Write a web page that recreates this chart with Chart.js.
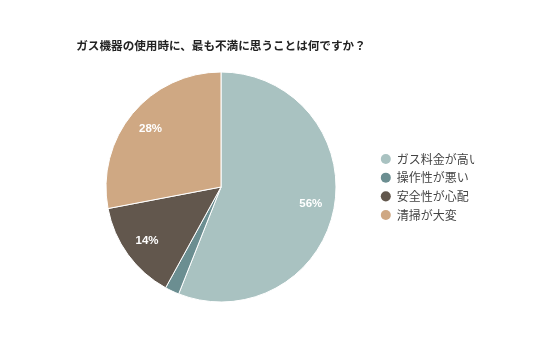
<!DOCTYPE html>
<html>
<head>
<meta charset="utf-8">
<script src="https://cdn.jsdelivr.net/npm/chart.js@4"></script>
<style>
  html, body { margin: 0; padding: 0; background: #ffffff; }
  canvas { display: block; }
</style>
</head>
<body>
<canvas id="c" width="536" height="357"></canvas>
<script>
const titleText = 'ガス機器の使用時に、最も不満に思うことは何ですか？';
const categories = ['ガス料金が高い', '操作性が悪い', '安全性が心配', '清掃が大変'];
const values = [56, 2, 14, 28];
const colors = ['#a9c2c1', '#6b8e91', '#62574d', '#cfa883'];

const pctLabels = {
  id: 'pctLabels',
  afterDatasetsDraw(chart) {
    const ctx = chart.ctx;
    const meta = chart.getDatasetMeta(0);
    const data = chart.data.datasets[0].data;
    const total = data.reduce((a, b) => a + b, 0);
    ctx.save();
    ctx.fillStyle = '#ffffff';
    ctx.font = 'bold 11.5px "Liberation Sans", Arial, sans-serif';
    ctx.textAlign = 'center';
    ctx.textBaseline = 'middle';
    meta.data.forEach((arc, i) => {
      const pct = Math.round(data[i] / total * 100);
      if (pct < 5) return;
      const p = arc.getProps(['x', 'y', 'startAngle', 'endAngle', 'outerRadius'], true);
      const mid = (p.startAngle + p.endAngle) / 2;
      const r = p.outerRadius * 0.795;
      ctx.fillText(pct + '%', p.x + Math.cos(mid) * r, p.y + Math.sin(mid) * r);
    });
    ctx.restore();
  }
};

new Chart(document.getElementById('c'), {
  type: 'pie',
  data: {
    labels: categories,
    datasets: [{
      data: values,
      backgroundColor: colors,
      borderColor: '#ffffff',
      borderWidth: 1,
      radius: 115
    }]
  },
  options: {
    responsive: false,
    animation: false,
    events: [],
    layout: { padding: { top: 38.6, bottom: 54.5, left: 67.9, right: 61.9 } },
    plugins: {
      title: {
        display: true,
        text: titleText,
        fullSize: false,
        color: '#222222',
        font: { family: '"Noto Sans CJK JP", sans-serif', size: 11.6, weight: 'bold', lineHeight: 1.2 },
        padding: { top: 0, bottom: 19 }
      },
      legend: {
        position: 'right',
        fullSize: false,
        maxWidth: 100,
        labels: {
          usePointStyle: true,
          pointStyle: 'circle',
          boxHeight: 7.1,
          pointStyleWidth: 10,
          padding: 6.7,
          color: '#444444',
          font: { family: '"Noto Sans CJK JP", sans-serif', size: 12 },
          generateLabels(chart) {
            const items = Chart.controllers.pie.overrides.plugins.legend.labels.generateLabels(chart);
            items.forEach(it => { it.strokeStyle = it.fillStyle; it.lineWidth = 0; });
            return items;
          }
        }
      },
      tooltip: { enabled: false }
    }
  },
  plugins: [pctLabels]
});
</script>
</body>
</html>
